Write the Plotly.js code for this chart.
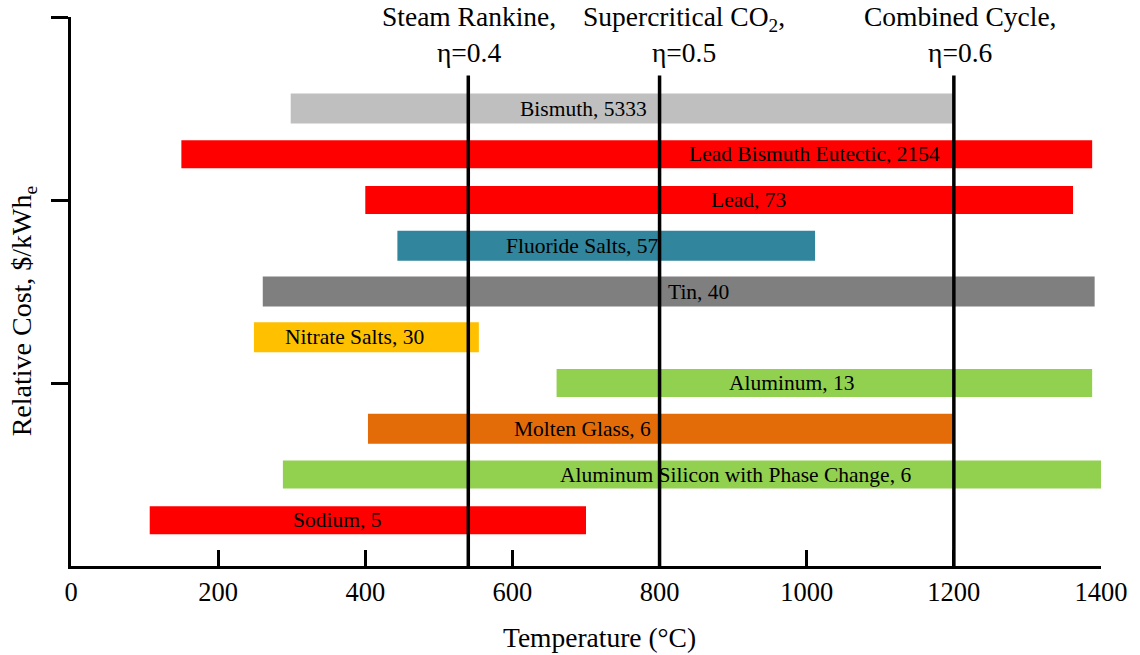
<!DOCTYPE html>
<html>
<head>
<meta charset="utf-8">
<script src="https://cdn.plot.ly/plotly-3.0.1.min.js"></script>
<style>
  html, body { margin: 0; padding: 0; background: #ffffff; }
  #chart { width: 1140px; height: 655px; }
</style>
</head>
<body>
<div id="chart"></div>
<script>
// Heat-transfer / storage media: usable temperature window (°C) and relative cost ($/kWh_e)
const materials = ["Sodium", "Aluminum Silicon with Phase Change", "Molten Glass", "Aluminum",
                   "Nitrate Salts", "Tin", "Fluoride Salts", "Lead", "Lead Bismuth Eutectic", "Bismuth"];
const relCost   = [5, 6, 6, 13, 30, 40, 57, 73, 2154, 5333];
const tMin      = [107, 288, 405, 660, 250, 262, 445, 400, 150, 300];
const tMax      = [700, 1400, 1198, 1388, 553, 1390, 1010, 1362, 1388, 1200];
const barColors = ["#FF0000", "#92D050", "#E36C09", "#92D050", "#FFC000",
                   "#7F7F7F", "#31859C", "#FF0000", "#FF0000", "#BFBFBF"];

// Power-cycle reference temperatures (°C) and their efficiencies
const cycleNames = ["Steam Rankine,", "Supercritical CO<sub>2</sub>,", "Combined Cycle,"];
const cycleTemp  = [540, 800, 1200];
const cycleEff   = [0.4, 0.5, 0.6];

// x-tick values for the temperature axis
const xTicks = [0, 200, 400, 600, 800, 1000, 1200, 1400];

const FONT = "Liberation Serif, Times New Roman, serif";

// row index of each material (bottom = 1)
const rows = materials.map((_, i) => i + 1);
// label centres along each bar (°C) and whether the bar has a soft outline
const labelAt  = [362, 903, 695, 979, 385, 853, 695, 921, 1010, 696];
const outlined = [false, false, true, false, true, true, true, false, false, true];

const bars = {
  type: "bar",
  orientation: "h",
  y: rows,
  base: tMin,
  x: tMax.map((v, i) => v - tMin[i]),
  width: 0.61,
  marker: {
    color: barColors,
    line: { color: barColors, width: outlined.map(o => (o ? 2 : 0)) }
  },
  hoverinfo: "skip",
  showlegend: false
};

const annotations = [];
materials.forEach((m, i) => {
  annotations.push({
    x: labelAt[i], y: rows[i], xref: "x", yref: "y",
    text: m + ", " + relCost[i],
    showarrow: false, xanchor: "center", yanchor: "middle",
    font: { family: FONT, size: 21.5, color: "#000000" }
  });
});

const cycleShift = [1, 24, 6];
cycleNames.forEach((c, i) => {
  annotations.push({
    x: cycleTemp[i], y: 0.968, xref: "x", yref: "paper",
    text: c + "<br>η=" + cycleEff[i].toFixed(1),
    showarrow: false, xanchor: "center", yanchor: "middle",
    xshift: cycleShift[i],
    font: { family: FONT, size: 27.5, color: "#000000" }
  });
});

// axis titles
annotations.push({
  x: 0.513, y: -0.13, xref: "paper", yref: "paper",
  text: "Temperature (°C)", showarrow: false,
  xanchor: "center", yanchor: "middle",
  font: { family: FONT, size: 27.5, color: "#000000" }
});
annotations.push({
  x: -0.046, y: 0.465, xref: "paper", yref: "paper",
  text: "Relative Cost, $/kWh<sub>e</sub>", textangle: -90, showarrow: false,
  xanchor: "center", yanchor: "middle",
  font: { family: FONT, size: 28, color: "#000000" }
});

const shapes = cycleTemp.map(t => ({
  type: "line", xref: "x", yref: "y",
  x0: t, x1: t, y0: 0, y1: 10.72,
  line: { color: "#000000", width: 3.5 },
  layer: "above"
}));

const layout = {
  width: 1140, height: 655,
  margin: { l: 71, r: 39, t: 17, b: 89 },
  paper_bgcolor: "#ffffff", plot_bgcolor: "#ffffff",
  font: { family: FONT, color: "#000000" },
  bargap: 0,
  xaxis: {
    range: [0, 1400], tickvals: xTicks, ticktext: xTicks.map(String),
    showline: true, linewidth: 3, linecolor: "#000000",
    ticks: "inside", ticklen: 16, tickwidth: 3, tickcolor: "#000000",
    showgrid: false, zeroline: false,
    tickfont: { family: FONT, size: 26.5, color: "#000000" }
  },
  yaxis: {
    range: [0, 12], tickvals: [4, 8, 12], showticklabels: false,
    showline: true, linewidth: 3, linecolor: "#000000",
    ticks: "outside", ticklen: 17, tickwidth: 3, tickcolor: "#000000",
    showgrid: false, zeroline: false
  },
  shapes: shapes,
  annotations: annotations
};

Plotly.newPlot("chart", [bars], layout, { displayModeBar: false, staticPlot: true });
</script>
</body>
</html>
